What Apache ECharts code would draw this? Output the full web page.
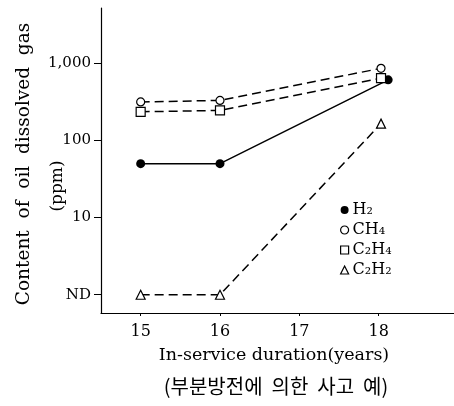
<!DOCTYPE html>
<html>
<head>
<meta charset="utf-8">
<script src="https://cdn.jsdelivr.net/npm/echarts@6/dist/echarts.min.js"></script>
<style>
  html, body { margin: 0; padding: 0; background: #fff; }
  #chart { width: 454px; height: 406px; }
</style>
</head>
<body>
<div id="chart"></div>
<script>
// in-service years, ND plotted at 1
var yearsH2 = [15, 16, 18.12];
var yearsOther = [15, 16, 18.03];
var h2 = [50, 50, 610];
var ch4 = [315, 330, 860];
var c2h4 = [235, 245, 640];
var c2h2 = [1, 1, 165];
var xTicks = [15, 16, 17, 18];

function pairs(xs, ys) {
    var out = [];
    for (var i = 0; i < ys.length; i++) out.push([xs[i], ys[i]]);
    return out;
}

var serif = 'DejaVu Serif';
var black = '#000';
var myChart = echarts.init(document.getElementById('chart'));

var dashed = { color: black, width: 1.5, type: [9, 5] };
var hollow = { color: '#fff', borderColor: black, borderWidth: 1.2 };

myChart.setOption({
    animation: false,
    grid: { left: 101, top: 8, width: 353, height: 305 },
    xAxis: {
        type: 'value',
        min: 14.5,
        max: 18.95,
        interval: 0.5,
        axisLine: { lineStyle: { color: black, width: 1.2 } },
        axisTick: { show: true, length: 3, lineStyle: { color: black },
            customValues: xTicks },
        axisLabel: { color: black, fontFamily: serif, fontSize: 16, margin: 11,
            customValues: xTicks },
        splitLine: { show: false }
    },
    yAxis: {
        type: 'log',
        logBase: 10,
        min: 0.58,
        max: 5200,
        axisLine: { show: true, lineStyle: { color: black, width: 1.2 } },
        axisTick: { show: true, length: 7, lineStyle: { color: black } },
        axisLabel: {
            color: black, fontFamily: serif, fontSize: 15, margin: 10,
            showMinLabel: false, showMaxLabel: false,
            formatter: function (v) {
                if (Math.abs(v - 1) < 1e-6) return 'ND';
                if (Math.abs(v - 1000) < 1e-3) return '1,000';
                return String(Math.round(v));
            }
        },
        minorTick: { show: false },
        splitLine: { show: false }
    },
    legend: {
        orient: 'vertical',
        left: 335,
        top: 197,
        itemWidth: 8,
        itemHeight: 8,
        itemGap: 4,
        textStyle: { color: black, fontFamily: serif, fontSize: 16, padding: [0, 0, 0, -1] },
        data: [
            { name: 'H₂', icon: 'circle', itemStyle: { color: black, borderWidth: 0 } },
            { name: 'CH₄', icon: 'circle', itemStyle: hollow },
            { name: 'C₂H₄', icon: 'rect', itemStyle: hollow },
            { name: 'C₂H₂', icon: 'triangle', itemStyle: hollow }
        ]
    },
    graphic: [
        { type: 'text', x: 24, y: 164, rotation: Math.PI / 2,
          style: { text: 'Content  of  oil  dissolved  gas', font: '18.5px "DejaVu Serif"',
                   fill: black, align: 'center', verticalAlign: 'middle' } },
        { type: 'text', x: 58, y: 186, rotation: Math.PI / 2,
          style: { text: '(ppm)', font: '17px "DejaVu Serif"',
                   fill: black, align: 'center', verticalAlign: 'middle' } },
        { type: 'text', x: 274, y: 355,
          style: { text: 'In-service duration(years)', font: '17.5px "DejaVu Serif"',
                   fill: black, align: 'center', verticalAlign: 'middle' } },
        { type: 'text', x: 276, y: 386,
          style: { text: '(부분방전에  의한  사고  예)', font: '20px "Noto Sans CJK KR"',
                   fill: black, align: 'center', verticalAlign: 'middle' } }
    ],
    series: [
        { name: 'H₂', type: 'line', data: pairs(yearsH2, h2),
          symbol: 'circle', symbolSize: 9,
          itemStyle: { color: black },
          lineStyle: { color: black, width: 1.5 } },
        { name: 'CH₄', type: 'line', data: pairs(yearsOther, ch4),
          symbol: 'circle', symbolSize: 8,
          itemStyle: hollow,
          lineStyle: dashed },
        { name: 'C₂H₄', type: 'line', data: pairs(yearsOther, c2h4),
          symbol: 'rect', symbolSize: 9,
          itemStyle: hollow,
          lineStyle: dashed },
        { name: 'C₂H₂', type: 'line', data: pairs(yearsOther, c2h2),
          symbol: 'triangle', symbolSize: 9,
          itemStyle: hollow,
          lineStyle: dashed }
    ]
});
</script>
</body>
</html>
